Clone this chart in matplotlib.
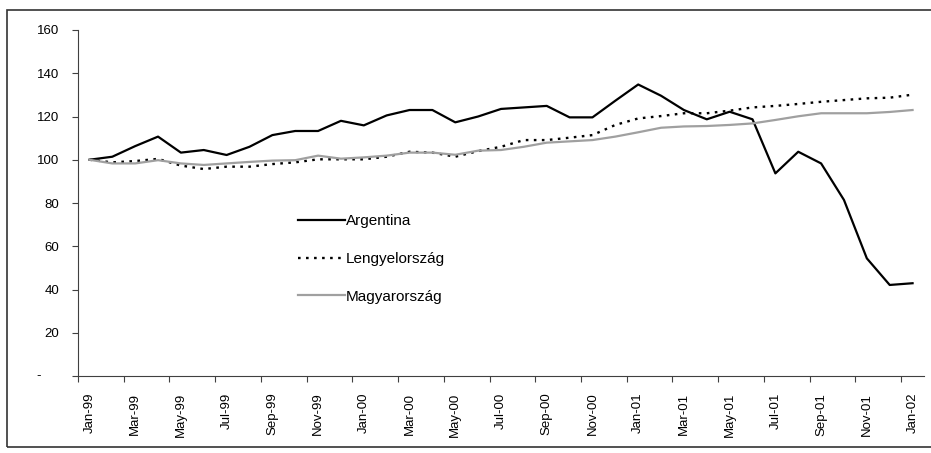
import matplotlib.pyplot as plt
from matplotlib.patches import Rectangle
from matplotlib.transforms import blended_transform_factory

plt.rcParams['font.family'] = ['Liberation Sans', 'DejaVu Sans']

months = ["Jan", "Feb", "Mar", "Apr", "May", "Jun",
          "Jul", "Aug", "Sep", "Oct", "Nov", "Dec"]
dates = [f"{m}-{y:02d}" for y in (99, 0, 1) for m in months] + ["Jan-02"]

argentina = [100, 101.4, 106.3, 110.7, 103.3, 104.5, 102.2, 106, 111.4, 113.3,
             113.3, 118, 115.9, 120.5, 123, 123, 117.3, 120, 123.5, 124.2,
             124.9, 119.6, 119.6, 127.3, 134.8, 129.6, 123, 118.7, 122.2, 118.7,
             93.7, 103.7, 98.3, 81.4, 54.4, 42.1, 42.9]
lengyel = [100, 98.8, 99.4, 100.4, 97.3, 95.7, 96.8, 96.8, 98, 98.8,
           100.2, 100.2, 100.2, 101.4, 103.7, 103.3, 101.4, 104, 106, 109.1,
           109.1, 110.2, 111.4, 116.1, 119.1, 120.2, 121.5, 121.5, 122.7, 124.2,
           124.9, 125.8, 126.8, 127.6, 128.4, 128.7, 130.1]
magyar = [100, 98.3, 98.3, 99.8, 98.3, 97.6, 98.3, 99, 99.6, 99.8,
          101.9, 100.5, 101.1, 101.9, 103.3, 103.3, 102.3, 104.2, 104.5, 106,
          107.9, 108.5, 109.1, 110.7, 112.7, 114.8, 115.4, 115.6, 116.1, 116.8,
          118.4, 120.1, 121.5, 121.5, 121.5, 122.1, 123]

yticks = [0, 20, 40, 60, 80, 100, 120, 140, 160]

fig = plt.figure(figsize=(9.31, 4.53), dpi=100)
fig.patches.append(Rectangle((7 / 931, 6 / 453), 930 / 931, 437 / 453,
                             transform=fig.transFigure, fill=False,
                             edgecolor="#333333", lw=1.2))
ax = fig.add_axes([78 / 931, 77 / 453, 846 / 931, 346 / 453])

x = list(range(len(dates)))
ax.plot(x, argentina, color="black", lw=1.6, label="Argentina")
ax.plot(x, lengyel, color="black", lw=1.7, linestyle=(0, (1.1, 2.3)),
        label="Lengyelország")
ax.plot(x, magyar, color="#a0a0a0", lw=1.6, label="Magyarország")

ax.set_xlim(-0.5, len(dates) - 0.5)
ax.set_ylim(0, 160)

for s in ("top", "right"):
    ax.spines[s].set_visible(False)
for s in ("left", "bottom"):
    ax.spines[s].set_color("#404040")
    ax.spines[s].set_linewidth(0.8)

ax.set_yticks(yticks)
ax.set_yticklabels(["" if v == 0 else str(v) for v in yticks])
ax.tick_params(axis="y", direction="out", length=4.5, width=0.8,
               color="#404040", labelsize=9.5, pad=9)
trans = blended_transform_factory(fig.transFigure, ax.transData)
ax.text(39 / 931, 0, "-", transform=trans, ha="center", va="center",
        fontsize=9.5)

ax.set_xticks([i - 0.5 for i in range(0, len(dates), 2)])
ax.set_xticklabels([])
ax.set_xticks(x[::2], minor=True)
ax.set_xticklabels(dates[::2], minor=True, rotation=90)
ax.tick_params(axis="x", which="major", direction="out", length=4,
               width=0.8, color="#404040")
ax.tick_params(axis="x", which="minor", length=0, labelsize=9.5, pad=12)

ax.legend(loc="upper left", bbox_to_anchor=(214 / 846, 168 / 346),
          frameon=False, fontsize=11, handlelength=3.05, handletextpad=0.1,
          labelspacing=1.56, borderaxespad=0)

fig.savefig("out.png", dpi=100)
